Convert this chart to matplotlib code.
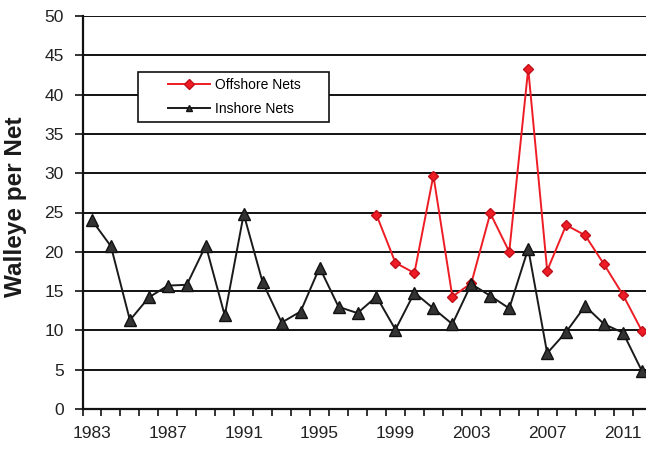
import matplotlib
matplotlib.use("Agg")
import matplotlib.pyplot as plt
from matplotlib.patches import Rectangle
import numpy as np

years = list(range(1983, 2013))
inshore = [24.0, 20.7, 11.3, 14.2, 15.7, 15.8, 20.8, 11.9, 24.8, 16.1, 11.0, 12.4,
           18.0, 13.0, 12.2, 14.3, 10.1, 14.8, 12.8, 10.8, 15.9, 14.4, 12.8, 20.4,
           7.1, 9.8, 13.1, 10.8, 9.7, 4.8]
offshore_years = list(range(1998, 2013))
offshore = [24.7, 18.6, 17.3, 29.7, 14.3, 16.0, 24.9, 20.0, 43.3, 17.6, 23.4, 22.1,
            18.4, 14.5, 9.9]
ylabel = "Walleye per Net"
xtick_years = [1983, 1987, 1991, 1995, 1999, 2003, 2007, 2011]

plt.rcParams['font.family'] = ['Liberation Sans', 'DejaVu Sans']

fig = plt.figure(figsize=(6.46, 4.5), dpi=100)
W, H = 646, 450
left, right, top, bottom = 82.5, 651.5, 16, 409
ax = fig.add_axes([left / W, 1 - bottom / H, (right - left) / W, (bottom - top) / H])

xi = np.arange(len(years))
xo = np.array([years.index(y) for y in offshore_years])

ax.plot(xo, offshore, color='#ee1c24', lw=1.4, marker='D', ms=5.5,
        mfc='#ee1c24', mec='#c0101a', label='Offshore Nets', zorder=3)
ax.plot(xi, inshore, color='#1a1a1a', lw=1.4, marker='^', ms=8,
        mfc='#333333', mec='#111111', label='Inshore Nets', zorder=4)

ax.set_xlim(-0.5, len(years) - 0.5)
ax.set_ylim(0, 50)
ax.set_yticks(np.arange(0, 51, 5))
ax.grid(axis='y', color='#111111', lw=1.4)
ax.set_axisbelow(True)

# boundary ticks on x
ax.set_xticks(np.arange(-0.5, len(years), 1.0))
ax.set_xticklabels([])
ax.tick_params(axis='x', which='major', direction='out', length=5, width=1.2, color='#111111')
ax.set_xticks([years.index(y) for y in xtick_years], minor=True)
ax.set_xticklabels([str(y) for y in xtick_years], minor=True)
ax.tick_params(axis='x', which='minor', length=0, pad=12, labelsize=12.5, labelcolor='#222222')
ax.tick_params(axis='y', direction='out', length=5.5, width=1.2, color='#111111',
               labelsize=12.5, labelcolor='#222222', pad=8)

for s in ['top', 'right']:
    ax.spines[s].set_visible(False)
for s in ['left', 'bottom']:
    ax.spines[s].set_color('#111111')
    ax.spines[s].set_linewidth(1.6)

ax.set_ylabel(ylabel, fontsize=17.5, fontweight='bold', color='#1a1a1a')
ax.yaxis.set_label_coords((27 - left) / (right - left), (bottom - 206.5) / (bottom - top))

leg = ax.legend(loc='center left', bbox_to_anchor=(168 / W, 1 - 97 / H),
                bbox_transform=fig.transFigure, frameon=False, fontsize=10,
                handlelength=3.0, borderpad=0, labelspacing=0.75, handletextpad=0.35,
                borderaxespad=0)
for h in leg.legend_handles:
    h.set_markersize(5)

fig.add_artist(Rectangle((138 / W, 1 - 122 / H), (329 - 138) / W, (122 - 72) / H,
                         transform=fig.transFigure, fill=True, facecolor='white',
                         edgecolor='#111111', lw=1.2, zorder=5))
leg.set_zorder(6)
fig.add_artist(leg)

fig.savefig("out.png", dpi=100)
